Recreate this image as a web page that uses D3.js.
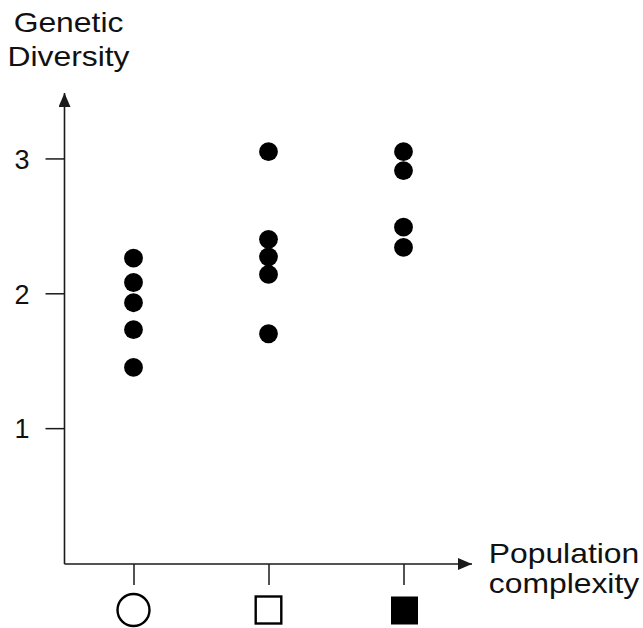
<!DOCTYPE html>
<html>
<head>
<meta charset="utf-8">
<script src="https://cdn.jsdelivr.net/npm/d3@7"></script>
<style>
  body { margin: 0; background: #fff; }
  svg text { font-family: "Liberation Sans", Arial, sans-serif; fill: #111; }
</style>
</head>
<body>
<div id="chart"></div>
<script>
// categories (population complexity) and the diversity values per group
const categories = ["low", "medium", "high"];
const lowValues = [2.26, 2.08, 1.93, 1.73, 1.45];
const mediumValues = [3.05, 2.40, 2.27, 2.14, 1.70];
const highValues = [3.05, 2.91, 2.49, 2.34];
const yTicks = [1, 2, 3];

const points = []
    .concat(lowValues.map(v => ["low", v]))
    .concat(mediumValues.map(v => ["medium", v]))
    .concat(highValues.map(v => ["high", v]));

width = 643;
height = 628;
axisX = 64.5;
axisY = 564;

const svg = d3.select("#chart")
    .append("svg")
    .attr("width", width)
    .attr("height", height);

const x = d3.scalePoint()
    .domain(categories)
    .range([133.5, 403.5]);

const y = d3.scaleLinear()
    .domain([0, 3.5])
    .range([563, 91]);

const ink = "#1a1a1a";

// y axis ticks + labels
const yAxis = svg.append("g")
    .attr("transform", "translate(" + axisX + ",0)")
    .call(d3.axisLeft(y).tickValues(yTicks).tickFormat(d3.format("d"))
        .tickSize(19).tickSizeOuter(0).tickPadding(16));
yAxis.select(".domain").remove();
yAxis.selectAll(".tick line").attr("stroke", ink).attr("stroke-width", 1.5);
yAxis.selectAll(".tick text")
    .attr("font-size", 27)
    .attr("font-family", "Liberation Sans, Arial, sans-serif")
    .attr("fill", ink)
    .attr("dy", "0.36em");

// x axis ticks (no labels, symbols drawn below)
const xAxis = svg.append("g")
    .attr("transform", "translate(0," + axisY + ")")
    .call(d3.axisBottom(x).tickSize(21).tickSizeOuter(0).tickFormat(""));
xAxis.select(".domain").remove();
xAxis.selectAll(".tick line").attr("stroke", ink).attr("stroke-width", 1.5);

// axis lines with arrows
svg.append("defs").append("marker")
    .attr("id", "arrow")
    .attr("viewBox", "0 0 14 12")
    .attr("refX", 14)
    .attr("refY", 6)
    .attr("markerWidth", 14)
    .attr("markerHeight", 12)
    .attr("markerUnits", "userSpaceOnUse")
    .attr("orient", "auto")
    .append("path")
    .attr("d", "M0,0 L14,6 L0,12 Z")
    .attr("fill", ink);

svg.append("line")
    .attr("x1", axisX).attr("x2", axisX)
    .attr("y1", axisY).attr("y2", y(3.485))
    .attr("stroke", ink).attr("stroke-width", 1.6)
    .attr("marker-end", "url(#arrow)");

svg.append("line")
    .attr("x1", axisX).attr("x2", 472)
    .attr("y1", axisY).attr("y2", axisY)
    .attr("stroke", ink).attr("stroke-width", 1.6)
    .attr("marker-end", "url(#arrow)");

// dots
svg.append("g")
    .selectAll("circle")
    .data(points)
    .enter()
    .append("circle")
        .attr("cx", d => x(d[0]))
        .attr("cy", d => y(d[1]))
        .attr("r", 9.4)
        .attr("fill", "#000");

// category symbols under the x axis
const symY = 610;
svg.append("circle")
    .attr("cx", x("low")).attr("cy", symY)
    .attr("r", 16)
    .attr("fill", "none").attr("stroke", "#000").attr("stroke-width", 2.4);
svg.append("rect")
    .attr("x", x("medium") - 12.8).attr("y", symY - 13.5)
    .attr("width", 25.6).attr("height", 27)
    .attr("fill", "none").attr("stroke", "#000").attr("stroke-width", 2.4);
svg.append("rect")
    .attr("x", x("high") - 12.5).attr("y", symY - 13.5)
    .attr("width", 27).attr("height", 28)
    .attr("fill", "#000");

// axis titles (slightly stretched horizontally like the original)
function title(lines, cx, baselines) {
    lines.forEach((t, i) => {
        svg.append("text")
            .attr("transform", "translate(" + cx + "," + baselines[i] + ") scale(1.18,1)")
            .attr("text-anchor", "middle")
            .attr("font-size", 27)
            .text(t);
    });
}
title(["Genetic", "Diversity"], 68.5, [32, 66]);
title(["Population", "complexity"], 564, [563, 593]);
</script>
</body>
</html>
